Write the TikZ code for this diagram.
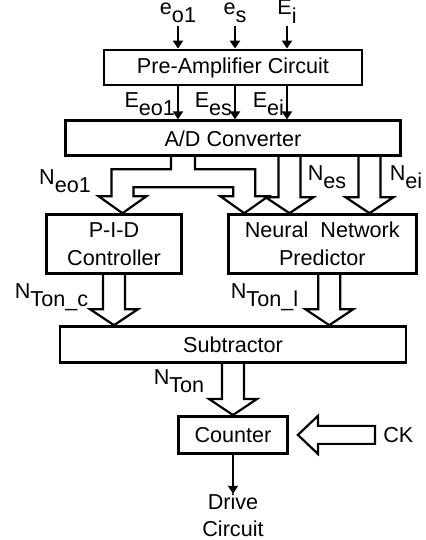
\documentclass[tikz,border=0pt]{standalone}
\usepackage{fontspec}
\setmainfont{Liberation Sans}
\usepackage{tikz}
\usetikzlibrary{arrows.meta,calc}
\usetikzlibrary{positioning}

% lowered index, same size as the letter
\newcommand{\lsub}[1]{\raisebox{-0.38em}{#1}}
% hollow bus arrow pointing down: #1 shaft top, #2 node the tip touches
\newcommand{\fatdown}[2]{%
  \draw [bus] ($(#1)+(-5.5,0)$) -- ($(#1 |- #2)+(-5.5,8)$) -- ++(-6.5,0)
    -- (#1 |- #2) -- ++(12,8) -- ++(-6.5,0) -- ($(#1)+(5.5,0)$);}

\begin{document}
\begin{tikzpicture}[x=1pt, y=1pt, node distance=16.5pt, >={Triangle[length=4pt,width=5pt]},
  every node/.style={font=\fontsize{10.8}{14}\selectfont}]
\tikzstyle{block} = [rectangle, draw = black, line width=1.4pt, inner sep=1pt, align=center]
\tikzstyle{sig} = [inner sep=1pt]
\tikzstyle{bus} = [line width=1.1pt]
\tikzstyle{wire} = [->, line width=1pt]
\useasboundingbox (0,0) rectangle (212.5,270);
\node (pre) [block, minimum width=129pt, minimum height=17.5pt] at (116.5,236.25) {Pre-Amplifier Circuit};
\node (adc) [block, minimum width=167.5pt, minimum height=17.5pt, below = of pre] {A/D Converter};
\node (pid) [block, minimum width=67.5pt, minimum height=29.5pt, below right = 28pt and -9.5pt of adc.south west] {P-I-D\\Controller};
\node (nn) [block, minimum width=94pt, minimum height=29.5pt, right = 22pt of pid] {Neural\ \ Network\\Predictor};
\node (sub) [block, minimum width=173pt, minimum height=18pt, below = 84pt of adc] {Subtractor};
\node (cnt) [block, minimum width=54.5pt, minimum height=18.5pt, below = 25.5pt of sub] {Counter};
\node (drv) [sig, inner sep=0pt, align=center, font=\fontsize{10.8}{13.5}\selectfont, below = 19.5pt of cnt] {Drive\\Circuit};
\node (ck) [sig, inner sep=2pt, right = 45pt of cnt] {CK};
% sensor inputs
\node (eo1) [sig, above = 11.5pt of pre.north, xshift=-27.5pt] {e\lsub{o1}};
\node (es) [sig, above = 11.5pt of pre.north, xshift=1pt] {e\lsub{s}};
\node (ei) [sig, above = 11.5pt of pre.north, xshift=27pt] {E\lsub{i}};
\draw [wire] (eo1) -- (eo1 |- pre.north);
\draw [wire] (es) -- (es |- pre.north);
\draw [wire] (ei) -- (ei |- pre.north);
\draw [wire] (eo1 |- pre.south) -- node [sig, left, pos=0.55] {E\lsub{eo1}} (eo1 |- adc.north);
\draw [wire] (es |- pre.south) -- node [sig, left, pos=0.55] {E\lsub{es}} (es |- adc.north);
\draw [wire] (ei |- pre.south) -- node [sig, left, pos=0.55] {E\lsub{ei}} (ei |- adc.north);
% digital buses
\coordinate (bus1) at ($(adc.south)+(-25,0)$);
\coordinate (tl) at ($(pid.north)+(4.25,0)$);
\coordinate (tr) at ($(nn.north)+(-39,0)$);
\draw [bus] ($(bus1)+(-6,0)$) |- ($(tl)+(-5.5,22)$) -- ($(tl)+(-5.5,8.5)$) -- ++(-6.5,0)
  -- (tl) -- ($(tl)+(12,8.5)$) -- ++(-6.5,0) |- ($(tr)+(-5.5,13)$) -- ($(tr)+(-5.5,8.5)$)
  -- ++(-6.5,0) -- (tr) -- ($(tr)+(12,8.5)$) -- ++(-6.5,0) |- ($(bus1)+(6,-6)$) -- ($(bus1)+(6,0)$);
\coordinate (bes) at ($(adc.south)+(28.25,0)$);
\coordinate (bei) at ($(adc.south)+(68.25,0)$);
\coordinate (nno) at ($(nn.south)+(3.5,0)$);
\fatdown{bes}{nn.north}
\fatdown{bei}{nn.north}
\fatdown{pid.south}{sub.north}
\fatdown{nno}{sub.north}
\fatdown{sub.south}{cnt.north}
\node (neo1) [sig] at (32.5,179.5) {N\lsub{eo1}};
\node (nes) [sig] at (163.5,181.25) {N\lsub{es}};
\node (nei) [sig] at (203,181.5) {N\lsub{ei}};
\node (ntc) [sig] at (25.75,121.25) {N\lsub{Ton\_c}};
\node (ntl) [sig] at (132.25,121.5) {N\lsub{Ton\_l}};
\node (nt) [sig] at (89.5,79.5) {N\lsub{Ton}};
% clock into the counter
\coordinate (cktip) at ($(cnt.east)+(4.5,0)$);
\draw [bus] ($(ck.west)+(-2,4.5)$) -- ($(cktip)+(10,4.5)$) -- ++(0,5) -- (cktip)
  -- ++(10,-9.5) -- ++(0,5) -- ($(ck.west)+(-2,-4.5)$) -- cycle;
\draw [wire] (cnt) -- (drv);
\end{tikzpicture}
\end{document}
